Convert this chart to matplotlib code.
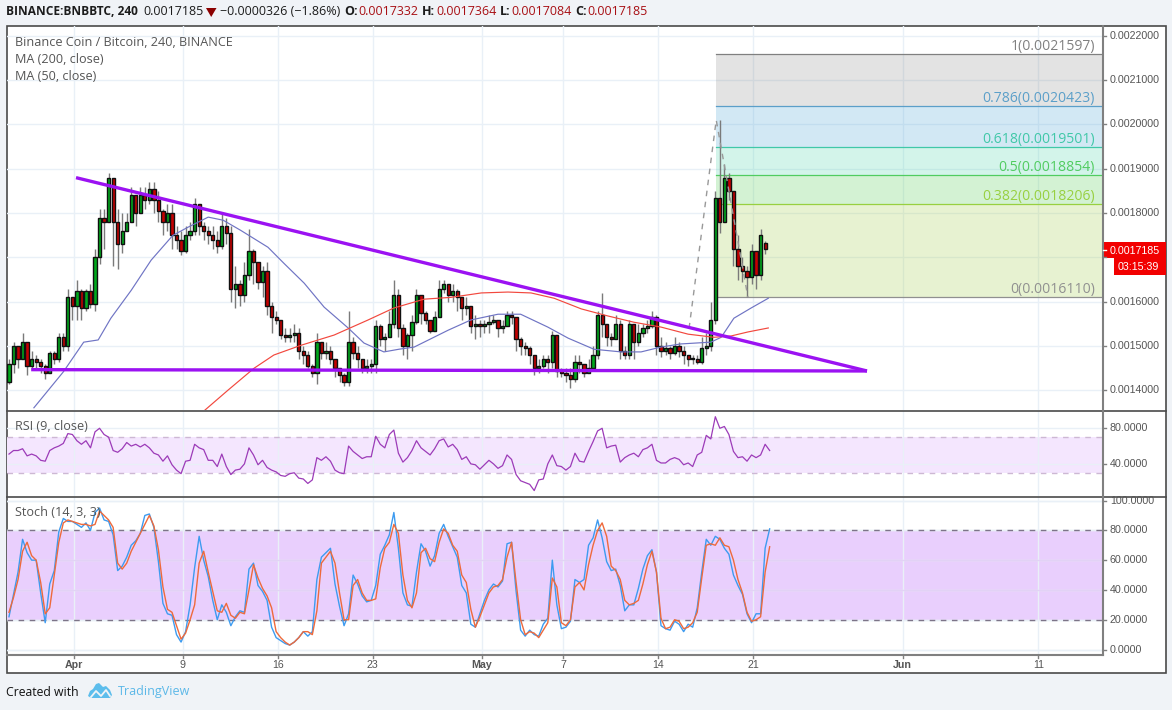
import numpy as np
import matplotlib
matplotlib.use("Agg")
import matplotlib.pyplot as plt
from matplotlib.patches import Polygon, Rectangle

# prices are in units of 0.00001 BTC, one entry every 8 hours
UNIT = 1e-5
first_open = 142
closes = [146,150,147,151,145.5,147,146.5,145.5,144,148.5,
          147,152,150,161,159,162.5,158.5,162.5,159.5,170,
          179,178,188,178,173,176,178,184,180,184,
          183,185.5,183,180.5,178,180,175,174,171.5,175,
          176,182,177,176,175,174,172.5,177,175.5,163,
          164,161.5,166,171.5,169,164.5,167,159,156.5,156,
          152.5,152,152.5,153,149,148,145.5,144,151,148.5,
          149,147,145,143.5,142,151,148.5,147,145,145.5,
          146,154.5,151.5,152,155,161.5,154,150,152.5,155.5,
          161.5,157.5,156,153.5,156.5,163,164,161.5,162.5,161,
          158.5,159,154.5,155,154.5,155,155.5,156,154,154.5,
          157,156.5,151.5,150,149.5,148,145,145.5,147,146.5,
          152.5,144.5,144,143.5,142.5,146.5,146,144,145,148,
          157,155,152,151.5,155,149,148,155,151,153,
          154,154.5,156.5,150,149,149.5,148.5,150,149,148,
          147,147,146.5,149.5,150,156,183.5,178,188,185,
          172,168,167,165.5,171.5,166,175,171.85]
highs = [147,151,150,153,149,149,148,147,146,149,
         149,153,153,163,161,165,163,163,164,172,
         181,181,189,184,181,180,180,186,184,186,
         186,187,187,185,181,182,182,177,176,177,
         178,183.5,182,178,177,177,176,180,179,177,
         168,165,169,176.5,172,169,168,169,160,158,
         156,154,154,155,154,150,149,146,153,150,
         151,150,147,145,144,158,152,150,147,147,
         147,156,155,153,158,165,163,155,153,157,
         163,161,158,156,158,165,165,164,164,163,
         161,161,158,157,156,156,157,157,156,156,
         158,158,155,152,151,150,147,147,148,148,
         153.5,146,145,145,145,148,148,146,147,150,
         158,162,153,153,157,156,150,156,155,155,
         155,156,158,157,152,151,150,152,151,150,
         148,148,148,152,153,160,185,201,191,189,
         176,175,170,168,173,170,176.5,173.64]
lows = [141.5,144,145,147,143.5,145,145,144,142.5,144,
        146,146.5,149,149,156,156,156,158,158.5,158,
        168.6,172,178,168,167.5,171,176,178,177,181,
        181,182,180,178,175,176,172,172,170.5,171,
        174,175,175,174,173,172,171,172,173,160,
        158.5,159,160,165,164,163,161,157,153,155,
        151.5,151,151,151,147,146,145,143,141.5,147,
        147,146,143,142,141,141,147,145,144,144,
        144,144,150,149,153,154,152,148,147,149,
        155,155,155,153,155,161,162,160,160,158,
        156,157,153,151.5,152,153,153,155,152,153,
        155,155,149,148,148,146,143.5,144,145,144,
        145,143,143,142,140.5,142,144,143,144,146,
        147,152,150,150,152,147,147,147,147,150,
        152,153,154,148,147.5,148,147,148,147.5,146,
        145.5,146,146,146,148,149,155,175.5,179,183,
        168,165,164.5,161,164,163,165,170.84]
last_open = 173.32

ma50_bar = [5.5,12,16.5,19.7,22.5,27,31.4,36.2,39.5,44,47.3,51.2,57.2,60.7,65.2,69.6,74.9,78.4,82.8,86.1,
            89.5,97,102,108,113,119,123.5,129.2,135.2,139.6,144,148.4,155,157.3,160.1,163.9,167.7]
ma50_val = [136.1,144.2,150.9,151.4,156.3,162.6,169.4,175,176.8,179.1,178.4,176.1,172.3,168.7,164.2,158.8,154.1,150.7,148.7,149.3,
            149.8,153.6,155.9,157.2,157.2,154.3,151.8,149.3,148.7,148.7,149.8,150.5,150.9,152,156.3,158.6,160.8]
ma200_bar = [43.3,48.4,54.1,58.5,64.5,71.8,79.3,85,91.7,97.6,104.3,110.2,115.3,120.4,126.4,132.3,138,144,150,155.7,159.5,163.2,167.7]
ma200_val = [135.6,140.1,145,148,150.2,152.5,155.9,158.6,160.6,161,162,162.2,162,160.8,158.4,156.8,155.4,154.3,152.7,152,152.3,153.2,154.1]

rsi = [51,55,55,57,49,51,49,44,43,55,58,60,63,74,73,66,62,66,58,76,
       80,73,70,55,53,57,64,60,62,59,62,58,52,50,43,49,39,33,29,43,
       44,62,58,56,44,44,37,51,37,28,33,34,40,58,50,39,44,36,33,31,
       27,26,29,30,24,23,18,22,47,44,48,43,33,30,29,60,54,50,46,48,
       48,71,62,58,73,78,52,42,47,55,66,58,54,50,57,66,68,59,62,56,
       45,48,40,39,34,39,44,40,35,38,50,45,28,21,19,17,10,22,23,40,
       50,38,37,33,37,52,43,42,54,65,77,80,58,60,61,42,47,50,52,48,
       56,58,62,44,41,41,45,47,45,39,41,37,50,53,72,68,93,80,82,73,
       54,47,48,43,50,47,50,62,55]
stoch_k = [22,37,52,74,65,60,60,38,18,44,53,79,88,86,86,84,82,85,80,92,
           95,87,86,77,53,56,62,70,73,78,90,91,82,59,31,24,23,10,5,12,
           30,55,76,60,49,33,20,30,25,16,22,26,25,54,58,43,39,33,15,8,
           6,4,3,5,8,12,9,12,47,62,65,68,44,29,16,24,50,44,36,32,
           33,43,64,70,77,92,68,38,30,29,52,71,66,56,63,78,84,76,69,62,
           43,38,17,15,24,33,40,44,42,46,71,72,39,13,9,13,10,9,17,21,
           60,30,14,15,19,47,45,47,70,75,87,75,59,53,54,43,26,30,30,41,
           54,63,67,52,16,14,13,19,17,12,17,15,28,52,74,70,76,74,68,64,
           50,43,37,24,18,24,24,68,81]
stoch_d = [25,35,47,66,72,63,60,45,24,28,50,72,85,87,86,85,84,84,83,84,
           93,90,87,82,58,54,58,66,72,78,84,90,83,67,42,27,25,16,7,11,
           20,30,58,66,52,39,26,25,31,23,21,25,24,40,57,48,41,36,28,12,
           8,5,3,5,8,12,12,10,26,58,62,66,58,38,20,20,43,47,38,33,
           33,34,55,68,72,84,78,50,33,28,38,65,68,61,59,72,81,78,70,66,
           50,45,27,15,22,30,38,42,43,47,62,72,45,20,10,12,11,8,13,18,
           48,42,18,16,20,42,45,40,57,70,80,85,76,56,53,47,33,30,31,33,
           44,57,66,52,21,14,15,20,19,14,15,18,25,48,70,71,70,75,70,69,
           60,47,38,25,19,20,22,52,69]

# drawn lines, (bar, price)
down_bar = [14.8, 189.5]
down_val = [188, 144.4]
flat_bar = [4.9, 189.5]
flat_val = [144.7, 144.4]
swing_bar = [150.2, 156.2, 163.2]
swing_val = [154, 201, 161]

fib_levels = [1, 0.786, 0.618, 0.5, 0.382, 0]
fib_prices = [0.0021597, 0.0020423, 0.0019501, 0.0018854, 0.0018206, 0.0016110]
fib_colors = ["#808080", "#5b9fc9", "#40c8a8", "#50cc60", "#98d040", "#909090"]
fib_fills = ["#808080", "#4fa7d7", "#53d7af", "#53cf53", "#a3cf4b"]
fib_start = 156.2

price_ticks = [0.0014, 0.0015, 0.0016, 0.0017, 0.0018, 0.0019, 0.0020, 0.0021, 0.0022]
rsi_ticks = [40, 80]
stoch_ticks = [0, 20, 40, 60, 80, 100]
# days after Apr 1 for the time axis
tick_days = [0, 8, 15, 22, 30, 36, 43, 50, 61, 71]
tick_names = ["Apr", "9", "16", "23", "May", "7", "14", "21", "Jun", "11"]
bold_names = ["Apr", "May", "Jun"]
APR1_BAR = 14.36
BARS_PER_DAY = 3

W, H = 1172, 710
SANS = ["Open Sans", "DejaVu Sans"]
AXIS = ["Liberation Sans", "DejaVu Sans"]
BG = "#f0f3f7"
GRID = "#e9f0f7"
TXT = "#555555"
FRAME = "#4a4a4a"

fig = plt.figure(figsize=(W / 100, H / 100), dpi=100, facecolor=BG)


def pane(left, top, right, bottom, z=2):
    ax = fig.add_axes([left / W, 1 - bottom / H, (right - left) / W, (bottom - top) / H], zorder=z)
    ax.patch.set_alpha(0)
    ax.set_xticks([])
    ax.set_yticks([])
    for s in ax.spines.values():
        s.set_visible(False)
    return ax


# whole figure in pixels, for the frame and the texts
back = pane(0, 0, W, H, z=0)
back.set_xlim(0, W)
back.set_ylim(H, 0)
front = pane(0, 0, W, H, z=10)
front.set_xlim(0, W)
front.set_ylim(H, 0)

back.add_patch(Rectangle((6.5, 25.5), 1159, 647.5, fc="white", ec=FRAME, lw=1.2))
for y in [410.5, 496.5]:
    front.plot([6.5, 1165.5], [y, y], color=FRAME, lw=1.2)
front.plot([6.5, 1102.5], [654.5, 654.5], color="#808080", lw=1.5)
front.plot([1102.5, 1102.5], [25.5, 654.5], color="#808080", lw=1.5)

XLIM = (-0.44, 241.4)
ax_p = pane(7, 26, 1102, 410)
ax_r = pane(7, 411, 1102, 496)
ax_s = pane(7, 497, 1102, 654)
ax_p.set_ylim(135.6 * UNIT, 222.2 * UNIT)
ax_r.set_ylim(3.9, 99.4)
ax_s.set_ylim(-3, 102.4)
tick_x = [APR1_BAR + BARS_PER_DAY * d for d in tick_days]
for ax in (ax_p, ax_r, ax_s):
    ax.set_xlim(*XLIM)
    for x in tick_x:
        ax.axvline(x, color=GRID, lw=1, zorder=0.5)
for p in price_ticks:
    ax_p.axhline(p, color=GRID, lw=1, zorder=0.5)
for v in rsi_ticks:
    ax_r.axhline(v, color=GRID, lw=1, zorder=0.5)
for v in stoch_ticks:
    ax_s.axhline(v, color=GRID, lw=1, zorder=0.5)

# fibonacci block
for i in range(len(fib_fills)):
    ax_p.fill_between([fib_start, XLIM[1]], fib_prices[i + 1], fib_prices[i],
                      color=fib_fills[i], alpha=0.22 if i == 0 else 0.25, lw=0, zorder=1)
for lvl, p, c in zip(fib_levels, fib_prices, fib_colors):
    ax_p.plot([fib_start, XLIM[1]], [p, p], color=c, lw=0.9, zorder=1.5)
    ax_p.annotate("%g(%.7f)" % (lvl, p), (XLIM[1], p), xytext=(-7, 0), textcoords="offset pixels",
                  ha="right", va="bottom", fontsize=10.1, color=c, family=SANS, zorder=1.5)

# candles
closes_a = np.array(closes)
opens_a = np.concatenate([[first_open], closes_a[:-1]])
opens_a[-1] = last_open
bars = np.arange(len(closes_a))
ax_p.vlines(bars, np.array(lows) * UNIT, np.array(highs) * UNIT, color="#7a7a7a", lw=1.0, zorder=3)
up = closes_a >= opens_a
bottoms = np.minimum(opens_a, closes_a)
heights = np.maximum(np.abs(closes_a - opens_a), 0.4)
for mask, col in [(up, "#00a81c"), (~up, "#c40000")]:
    ax_p.bar(bars[mask], heights[mask] * UNIT, bottom=bottoms[mask] * UNIT, width=0.72,
             color=col, edgecolor="#101010", lw=1.0, zorder=4)

ax_p.plot(ma50_bar, np.array(ma50_val) * UNIT, color="#6f74c4", lw=0.85, zorder=5)
ax_p.plot(ma200_bar, np.array(ma200_val) * UNIT, color="#f2483e", lw=0.85, zorder=5)
ax_p.plot(swing_bar, np.array(swing_val) * UNIT, color="#999999", lw=1, ls=(0, (4, 4)), zorder=5)
ax_p.plot(down_bar, np.array(down_val) * UNIT, color="#9b12f2", lw=2.4, zorder=6, solid_capstyle="butt")
ax_p.plot(flat_bar, np.array(flat_val) * UNIT, color="#9b12f2", lw=2.4, zorder=6, solid_capstyle="butt")

# rsi
ax_r.fill_between(XLIM, 30, 70, color="#f4e6fe", lw=0, zorder=0.3)
for v in [30, 70]:
    ax_r.axhline(v, color="#cdb8d4", lw=1, ls=(0, (4, 4)), zorder=1)
ax_r.plot(np.arange(len(rsi)), rsi, color="#9c3bb8", lw=0.9, zorder=3)

# stochastic
ax_s.fill_between(XLIM, 20, 80, color="#e9cffd", lw=0, zorder=0.3)
for v in stoch_ticks:
    ax_s.axhline(v, color="#e2d2f5" if 20 < v < 80 else GRID, lw=1, zorder=0.5)
for v in [20, 80]:
    ax_s.axhline(v, color="#7d7488", lw=1, ls=(0, (4, 4)), zorder=1)
ax_s.plot(np.arange(len(stoch_k)), stoch_k, color="#3d9bf0", lw=1.0, zorder=3)
ax_s.plot(np.arange(len(stoch_d)), stoch_d, color="#ee6a3c", lw=1.0, zorder=4)


def axis_label(ax, val, text):
    y = front.transData.inverted().transform(ax.transData.transform((0, val)))[1]
    front.plot([1102.5, 1106], [y, y], color="#808080", lw=1)
    # the 0.0017 label sits under the last-price boxes, as in the platform
    if text != "0.0017000":
        front.text(1110, y, text, fontsize=7.7, color=TXT, family=AXIS, va="center", ha="left")


for p in price_ticks:
    axis_label(ax_p, p, "%.7f" % p)
for v in rsi_ticks:
    axis_label(ax_r, v, "%.4f" % v)
for v in stoch_ticks:
    axis_label(ax_s, v, "%.4f" % v)

# time axis
for x, name in zip(tick_x, tick_names):
    px = front.transData.inverted().transform(ax_s.transData.transform((x, 0)))[0]
    front.plot([px, px], [654.5, 658], color="#808080", lw=1)
    front.text(px, 665, name, fontsize=7.7, color=TXT, family=AXIS, ha="center", va="center",
               fontweight="bold" if name in bold_names else "normal")

# last price boxes
front.add_patch(Rectangle((1102, 242), 64, 16, fc="#f20000", ec="none"))
front.text(1110, 250.5, "0.0017185", fontsize=7.7, color="white", family=AXIS, va="center")
front.plot([1102.5, 1106], [250, 250], color="white", lw=1)
front.add_patch(Rectangle((1114, 258), 52, 17, fc="#f20000", ec="none"))
front.text(1118, 267, "03:15:39", fontsize=7.7, color="white", family=AXIS, va="center")

# legends
LEG = "#555555"
front.text(15, 43, "Binance Coin / Bitcoin, 240, BINANCE", fontsize=9.1, color=LEG, family=SANS, va="center")
front.text(15, 59.5, "MA (200, close)", fontsize=9.1, color=LEG, family=SANS, va="center")
front.text(15, 76.5, "MA (50, close)", fontsize=9.1, color=LEG, family=SANS, va="center")
front.text(15, 427, "RSI (9, close)", fontsize=9.1, color=LEG, family=SANS, va="center")
front.text(15, 513, "Stoch (14, 3, 3)", fontsize=9.1, color=LEG, family=SANS, va="center")

# header
HEAD = "#1c1c1c"
VAL = "#a80f14"
y0 = 11.5
front.text(6, y0, "BINANCE:BNBBTC, 240", fontsize=8.6, fontweight="bold", color=HEAD, family=SANS, va="center")
front.text(143, y0, "0.0017185", fontsize=9, color=HEAD, family=SANS, va="center")
front.add_patch(Polygon([(206, 8), (216.5, 8), (211.2, 17)], fc="#8b0000", ec="none"))
front.text(220, y0, "\u22120.0000326 (\u22121.86%)", fontsize=9, color=HEAD, family=SANS, va="center")
for lx, lab, vx, val in [(344, "O:", 358, "0.0017332"), (422, "H:", 436, "0.0017364"),
                         (500, "L:", 511, "0.0017084"), (575, "C:", 587, "0.0017185")]:
    front.text(lx, y0, lab, fontsize=9, fontweight="bold", color=HEAD, family=SANS, va="center")
    front.text(vx, y0, val, fontsize=9, color=VAL, family=SANS, va="center")

# footer
front.text(6, 692, "Created with", fontsize=8.8, color="#111111", family=SANS, va="center")
front.add_patch(Polygon([(88, 696), (90, 691), (93, 689), (96, 684), (99, 683), (103, 687), (106, 686),
                         (110, 690), (112, 695), (110, 698), (91, 698)], fc="#5cbdec", ec="none"))
front.plot([91, 96, 101, 106, 110], [697, 691, 696, 690, 696], color=BG, lw=1.3)
front.text(118, 692, "TradingView", fontsize=9, color="#5cb8e8", family=SANS, va="center")

fig.savefig("out.png", dpi=100, facecolor=BG)
